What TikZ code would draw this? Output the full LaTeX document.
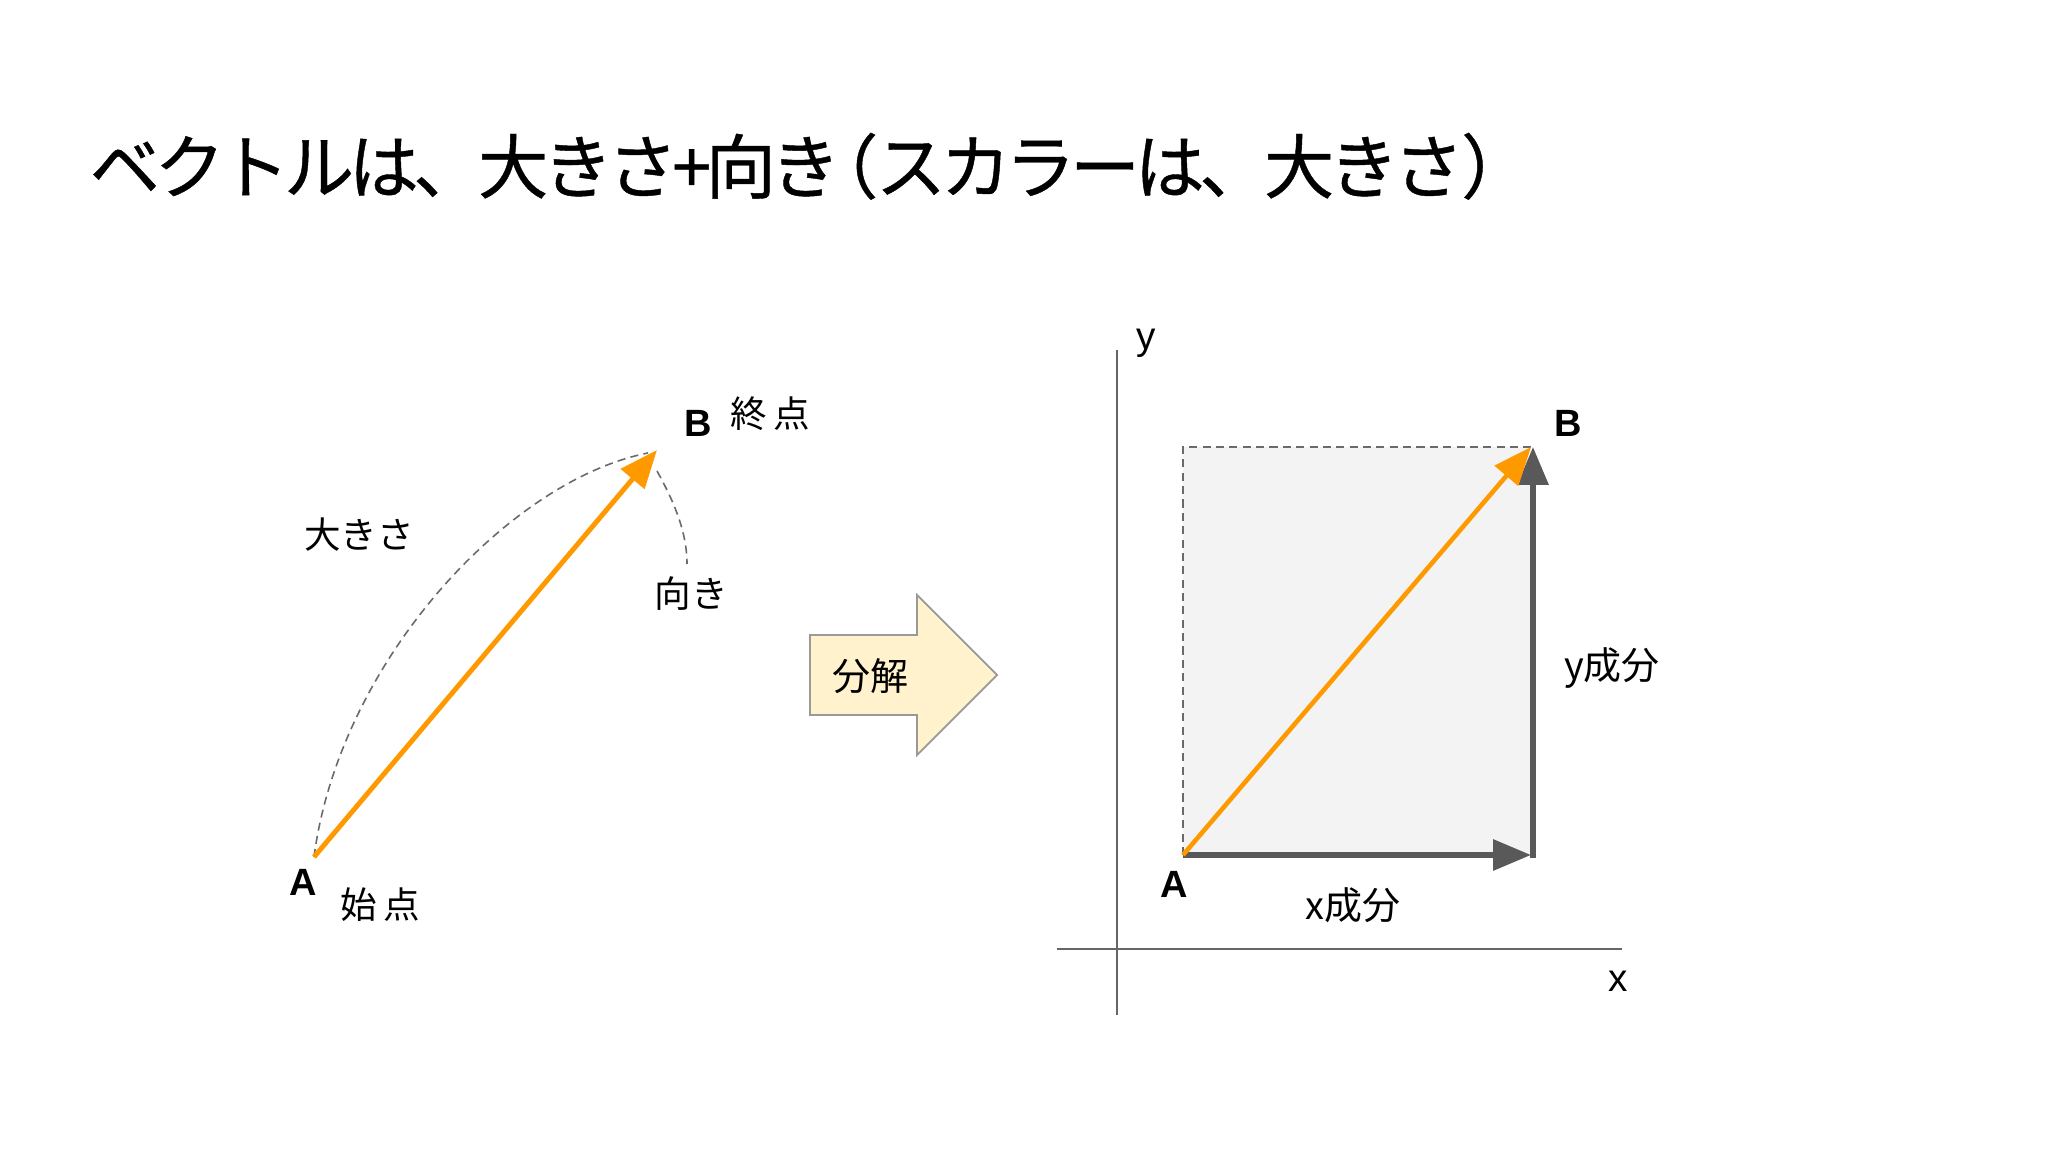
\documentclass[tikz,border=0pt]{standalone}
\usepackage{fontspec}
\setmainfont{Liberation Sans}
\newfontfamily\jp{Noto Sans CJK JP}
\newfontfamily\jphead[LetterSpace=-8,FakeBold=0.6]{Noto Sans CJK JP}
\newfontfamily\jpparen[RawFeature=+palt,FakeBold=0.6]{Noto Sans CJK JP}
\usetikzlibrary{arrows.meta}
\definecolor{vorange}{HTML}{FF9900}
\definecolor{vgray}{HTML}{595959}
\definecolor{axisgray}{HTML}{666666}
\definecolor{boxfill}{HTML}{F3F3F3}
\definecolor{arrowfill}{HTML}{FFF2CC}
\definecolor{arrowedge}{HTML}{999999}
\tikzset{
  lbl/.style={inner sep=0pt, font=\jp\fontsize{10.4pt}{12pt}\selectfont},
  ptlbl/.style={inner sep=0pt, font=\bfseries\fontsize{10.8pt}{12pt}\selectfont},
  axlbl/.style={inner sep=0pt, font=\fontsize{11pt}{13pt}\selectfont},
  vec/.style={draw=vorange, line width=1.4pt, -{Triangle[length=10.8pt,width=8.6pt]}},
  comp/.style={draw=vgray, line width=1.6pt, -{Triangle[length=10.8pt,width=8.6pt]}},
  guide/.style={draw=vgray!90, line width=0.45pt, dash pattern=on 2.3pt off 1.5pt},
  axisline/.style={draw=axisgray, line width=0.6pt},
  bigarrow/.style={fill=arrowfill, draw=arrowedge, line width=0.5pt}
}
\begin{document}
\begin{tikzpicture}[x=0.01cm,y=-0.01cm]
\useasboundingbox (0,0) rectangle (2048,1152);
\fill[white] (0,0) rectangle (2048,1152);

% title
\node[anchor=base west, inner sep=0pt, font=\jphead\fontsize{20pt}{24pt}\selectfont] (title) at (89,193)
  {ベクトルは、大きさ+向き{\jpparen （}スカラーは、大きさ{\jpparen ）}};

% ---------- left diagram ----------
\coordinate (lA) at (314,857);
\coordinate (lB) at (657,450);
\coordinate (arcAend) at (648,453);
\coordinate (arcBstart) at (657,471);
\coordinate (arcBend) at (687,564);

\draw[guide] (lA) .. controls (340,660) and (510,480) .. (arcAend);
\draw[guide] (arcBstart) .. controls (672,498) and (687,530) .. (arcBend);
\draw[vec] (lA) -- (lB);

\node[ptlbl] (lBl) at (698,423) {B};
\node[lbl] (endpt) at (770,414) {終\,点};
\node[lbl] (size) at (359,535) {大きさ};
\node[lbl] (dir) at (691,594) {向き};
\node[ptlbl] (lAl) at (303,882) {A};
\node[lbl] (startpt) at (380,905) {始\,点};

% ---------- decomposition arrow ----------
\coordinate (ba1) at (810,635);
\coordinate (ba2) at (917,635);
\coordinate (ba3) at (917,595);
\coordinate (ba4) at (997,675);
\coordinate (ba5) at (917,755);
\coordinate (ba6) at (917,715);
\coordinate (ba7) at (810,715);
\draw[bigarrow] (ba1) -- (ba2) -- (ba3) -- (ba4) -- (ba5) -- (ba6) -- (ba7) -- cycle;
\node[lbl, font=\jp\fontsize{10.8pt}{12pt}\selectfont] (decomp) at (870,676) {分解};

% ---------- right diagram ----------
\coordinate (yTop) at (1117,350);
\coordinate (yBot) at (1117,1015);
\coordinate (xLeft) at (1057,949);
\coordinate (xRight) at (1622,949);
\draw[axisline] (yTop) -- (yBot);
\draw[axisline] (xLeft) -- (xRight);
\node[axlbl] (ylab) at (1146,343) {y};
\node[axlbl] (xlab) at (1618,981) {x};

\coordinate (rA) at (1183,855);
\coordinate (rB) at (1531,447);
\coordinate (rC) at (1531,855);
\coordinate (rTL) at (1183,447);
\coordinate (rCy) at (1533,858);
\coordinate (rBy) at (1533,447);

\fill[boxfill] (rA) rectangle (rB);
\draw[guide] (rA) -- (rTL) -- (rB);
\draw[comp] (rA) -- (rC);
\draw[comp] (rCy) -- (rBy);
\draw[vec, line width=1.3pt] (rA) -- (rB);

\node[ptlbl] (rBl) at (1568,423) {B};
\node[ptlbl] (rAl) at (1174,884) {A};
\node[lbl, font=\jp\fontsize{10.8pt}{12pt}\selectfont] (xcomp) at (1353,905) {x成分};
\node[lbl, font=\jp\fontsize{10.8pt}{12pt}\selectfont] (ycomp) at (1612,668) {y成分};
\end{tikzpicture}
\end{document}
